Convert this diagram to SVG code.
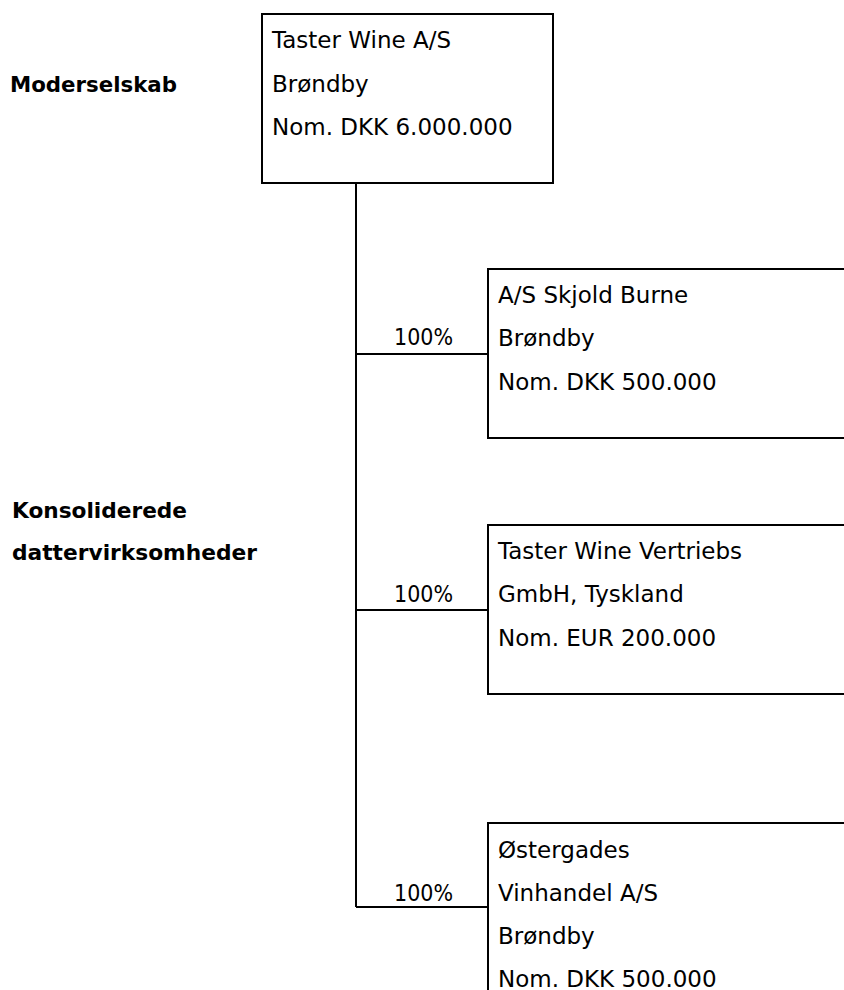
<svg xmlns="http://www.w3.org/2000/svg" width="844" height="990" viewBox="0 0 844 990">
<style>
  text { font-family: "DejaVu Sans", Verdana, sans-serif; font-size: 23px; fill: #000; }
  .lbl { font-weight: bold; font-size: 22px; }
  .box { fill: #fff; stroke: #000; stroke-width: 2; }
  .conn { fill: none; stroke: #000; stroke-width: 2; }
</style>
<rect width="844" height="990" fill="#fff"/>
<g id="labels">
  <text class="lbl" x="10" y="92" textLength="167" lengthAdjust="spacingAndGlyphs">Moderselskab</text>
  <text class="lbl" x="12" y="518" textLength="175" lengthAdjust="spacingAndGlyphs">Konsoliderede</text>
  <text class="lbl" x="12" y="560" textLength="245" lengthAdjust="spacingAndGlyphs">dattervirksomheder</text>
</g>
<g id="connectors">
  <path class="conn" d="M356 183 V907 M356 354 H488 M356 610 H488 M356 907 H488"/>
  <text x="394" y="345" textLength="59" lengthAdjust="spacingAndGlyphs">100%</text>
  <text x="394" y="602" textLength="59" lengthAdjust="spacingAndGlyphs">100%</text>
  <text x="394" y="901" textLength="59" lengthAdjust="spacingAndGlyphs">100%</text>
</g>
<g id="parent">
  <rect class="box" x="262" y="14" width="291" height="169"/>
  <text x="272" y="48">Taster Wine A/S</text>
  <text x="272" y="92">Brøndby</text>
  <text x="272" y="135">Nom. DKK 6.000.000</text>
</g>
<g id="skjold">
  <rect class="box" x="488" y="269" width="400" height="169"/>
  <text x="498" y="303">A/S Skjold Burne</text>
  <text x="498" y="346">Brøndby</text>
  <text x="498" y="390">Nom. DKK 500.000</text>
</g>
<g id="vertriebs">
  <rect class="box" x="488" y="525" width="400" height="169"/>
  <text x="498" y="559">Taster Wine Vertriebs</text>
  <text x="498" y="602">GmbH, Tyskland</text>
  <text x="498" y="646">Nom. EUR 200.000</text>
</g>
<g id="ostergades">
  <rect class="box" x="488" y="823" width="400" height="200"/>
  <text x="498" y="858">Østergades</text>
  <text x="498" y="901">Vinhandel A/S</text>
  <text x="498" y="944">Brøndby</text>
  <text x="498" y="987">Nom. DKK 500.000</text>
</g>
</svg>
